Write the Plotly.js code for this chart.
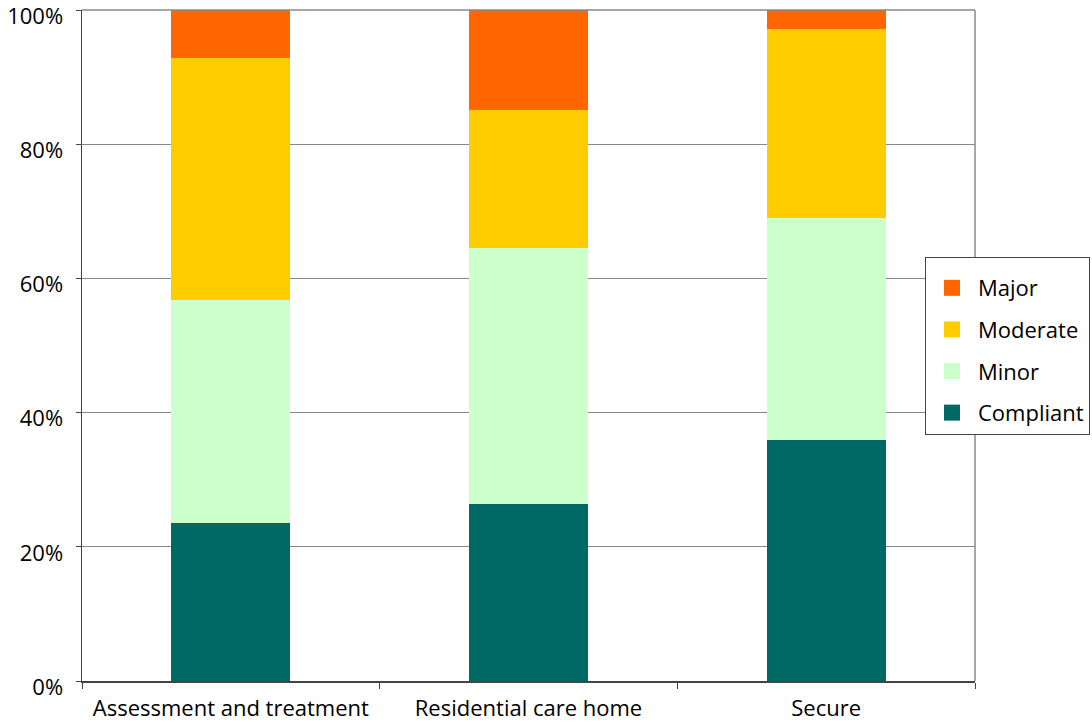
<!DOCTYPE html>
<html>
<head>
<meta charset="utf-8">
<script src="https://cdn.plot.ly/plotly-3.0.1.min.js"></script>
<style>html,body{margin:0;padding:0;background:#fff;}#chart{width:1092px;height:722px;}</style>
</head>
<body>
<div id="chart"></div>
<script>
var categories = ["Assessment and treatment", "Residential care home", "Secure"];
var compliant = [23.6, 26.4, 35.9];
var minor = [33.2, 38.2, 33.1];
var moderate = [36.1, 20.5, 28.2];
var major = [7.1, 14.9, 2.8];
var seriesNames = ["Compliant", "Minor", "Moderate", "Major"];
var seriesColors = ["#006966", "#CCFFCC", "#FFCC00", "#FF6600"];
var yTickVals = [0, 20, 40, 60, 80, 100];
var yTickText = ["0%", "20%", "40%", "60%", "80%", "100%"];

var seriesValues = [compliant, minor, moderate, major];
var traces = [];
seriesValues.forEach(function (vals, i) {
  traces.push({
    type: "bar",
    name: seriesNames[i],
    x: categories,
    y: vals,
    marker: {color: seriesColors[i], line: {width: 0}},
    showlegend: false,
    hoverinfo: "x+y+name"
  });
});
// legend entries, top to bottom: Major, Moderate, Minor, Compliant
for (var i = seriesValues.length - 1; i >= 0; i--) {
  traces.push({
    type: "scatter",
    mode: "markers",
    name: seriesNames[i],
    x: [null],
    y: [null],
    legendgroup: "g" + i,
    marker: {symbol: "square", size: 16, color: seriesColors[i]},
    hoverinfo: "skip"
  });
}

var font = "Open Sans, Noto Sans, sans-serif";
var layout = {
  width: 1092,
  height: 722,
  margin: {l: 82, r: 117, t: 10, b: 41, pad: 0, autoexpand: false},
  paper_bgcolor: "#ffffff",
  plot_bgcolor: "#ffffff",
  barmode: "stack",
  bargap: 0.6,
  font: {family: font, size: 22, color: "#000"},
  xaxis: {
    type: "category",
    showgrid: false,
    showline: true,
    linecolor: "#444",
    linewidth: 1.5,
    ticks: "outside",
    tickson: "boundaries",
    ticklen: 6,
    tickcolor: "#444",
    ticklabelstandoff: 7,
    ticklabeloverflow: "allow",
    tickfont: {family: font, size: 22, color: "#000"},
    zeroline: false
  },
  yaxis: {
    range: [0, 100],
    tickvals: yTickVals,
    ticktext: yTickText,
    showgrid: true,
    gridcolor: "#888",
    gridwidth: 1.2,
    showline: true,
    linecolor: "#444",
    linewidth: 1.5,
    ticks: "outside",
    ticklen: 5,
    tickcolor: "#444",
    ticklabelstandoff: 8,
    ticklabelshift: 6,
    ticklabeloverflow: "allow",
    tickfont: {family: font, size: 22, color: "#000"},
    zeroline: false,
    fixedrange: true
  },
  shapes: [{
    type: "line", xref: "paper", yref: "paper",
    x0: 1, x1: 1, y0: 0, y1: 1,
    line: {color: "#888", width: 1.5}
  }, {
    type: "line", xref: "paper", yref: "paper",
    x0: 0, x1: 1, y0: 1, y1: 1,
    line: {color: "#888", width: 1.5}
  }],
  legend: {
    x: 0.944, xanchor: "left",
    y: 0.632, yanchor: "top",
    traceorder: "grouped",
    tracegroupgap: 10,
    itemwidth: 42,
    title: {text: "&nbsp;", font: {size: 7}},
    bordercolor: "#444",
    borderwidth: 1,
    bgcolor: "#fff",
    font: {family: font, size: 22, color: "#000"}
  }
};

Plotly.newPlot("chart", traces, layout, {displayModeBar: false, staticPlot: true});
</script>
</body>
</html>
